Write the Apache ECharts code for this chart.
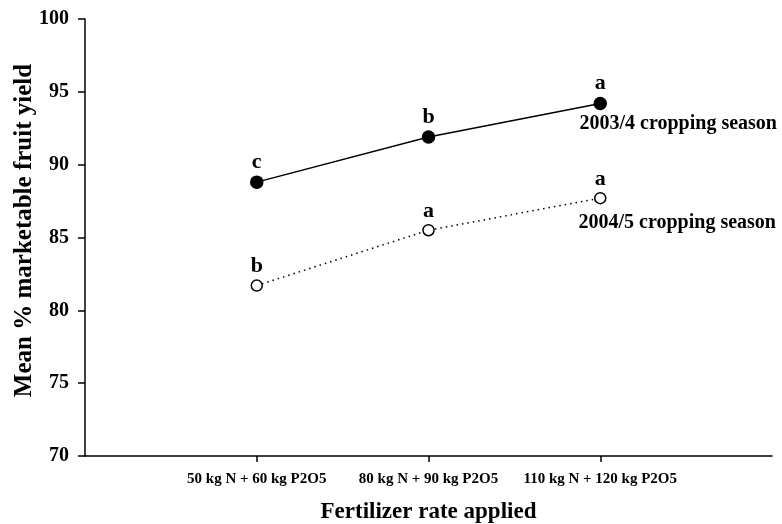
<!DOCTYPE html>
<html><head><meta charset="utf-8">
<script src="https://cdn.jsdelivr.net/npm/echarts@6/dist/echarts.min.js"></script>
<style>html,body{margin:0;padding:0;background:#fff}#c{width:782px;height:524px}</style>
</head><body><div id="c"></div>
<script>
var categories = ['50 kg N + 60 kg P2O5', '80 kg N + 90 kg P2O5', '110 kg N + 120 kg P2O5'];
var season1Name = '2003/4 cropping season';
var season2Name = '2004/5 cropping season';
var season1Values = [88.8, 91.9, 94.2];
var season2Values = [81.7, 85.5, 87.7];
var season1Letters = ['c', 'b', 'a'];
var season2Letters = ['b', 'a', 'a'];
var yTicks = [70, 75, 80, 85, 90, 95, 100];

var FONT = '"Liberation Serif", "Times New Roman", serif';
var axisCats = [''].concat(categories).concat(['']);
function pad(arr) { return ['-'].concat(arr).concat(['-']); }

function mkSeries(name, values, letters, solid, nameOffset) {
  var last = categories.length;
  return {
    name: name, type: 'line', data: pad(values),
    symbol: 'circle', symbolSize: solid ? 12 : 11,
    itemStyle: { color: solid ? '#000' : '#fff', borderColor: '#000', borderWidth: 1.5 },
    lineStyle: { color: '#000', width: 1.5, type: solid ? 'solid' : [1.5, 4] },
    label: {
      show: true, position: 'top', distance: 2,
      formatter: function (p) { return letters[p.dataIndex - 1]; },
      fontFamily: FONT, fontWeight: 'bold', fontSize: 22, color: '#000'
    },
    markPoint: {
      symbol: 'circle', symbolSize: 0,
      data: [{ coord: [categories[last - 1], values[last - 1]], name: name }],
      label: {
        show: true, position: 'inside', offset: nameOffset,
        formatter: name, fontFamily: FONT, fontWeight: 'bold', fontSize: 20, color: '#000'
      }
    },
    animation: false
  };
}

var chart = echarts.init(document.getElementById('c'), null, { renderer: 'canvas' });
chart.setOption({
  animation: false,
  grid: { left: 85, right: 10, top: 19, bottom: 68, outerBoundsMode: 'none', containLabel: false },
  xAxis: {
    type: 'category', data: axisCats, boundaryGap: false,
    axisLine: { lineStyle: { color: '#000', width: 1.5 } },
    axisTick: { show: true, length: 6, lineStyle: { color: '#000', width: 1.5 },
      interval: function (i, v) { return v !== ''; } },
    axisLabel: { interval: 0, margin: 16, fontFamily: FONT, fontWeight: 'bold', fontSize: 15, color: '#000' },
    splitLine: { show: false },
    name: 'Fertilizer rate applied', nameLocation: 'middle', nameGap: 45, nameMoveOverlap: false,
    nameTextStyle: { fontFamily: FONT, fontWeight: 'bold', fontSize: 23, color: '#000' }
  },
  yAxis: {
    type: 'value', min: yTicks[0], max: yTicks[yTicks.length - 1], interval: 5,
    axisLine: { show: true, lineStyle: { color: '#000', width: 1.5 } },
    axisTick: { show: true, length: 7, lineStyle: { color: '#000', width: 1.5 } },
    axisLabel: { margin: 16, fontFamily: FONT, fontWeight: 'bold', fontSize: 20, color: '#000' },
    splitLine: { show: false },
    name: 'Mean % marketable fruit yield', nameLocation: 'middle', nameGap: 48, nameMoveOverlap: false,
    nameTextStyle: { fontFamily: FONT, fontWeight: 'bold', fontSize: 25, color: '#000', padding: [0, 0, 0, 14] }
  },
  series: [
    mkSeries(season1Name, season1Values, season1Letters, true, [78, 20]),
    mkSeries(season2Name, season2Values, season2Letters, false, [77, 25])
  ]
});
</script></body></html>
